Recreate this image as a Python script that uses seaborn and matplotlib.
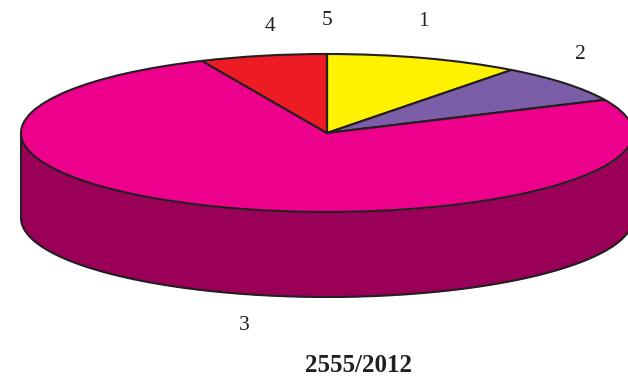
import numpy as np
import matplotlib
matplotlib.use("Agg")
import matplotlib.pyplot as plt
import seaborn as sns

categories = ["1", "2", "3", "4", "5"]
values = [10.3, 7.8, 75.2, 6.7, 0.0]
top_colors = ["#fff200", "#7b5ea7", "#ec008c", "#ed1c24", "#ed1c24"]
wall_color = "#9a0058"
edge = "#231f20"
title = "2555/2012"

W, H = 628, 378
CX, CY, RX, RY, DEPTH = 327, 133, 306, 79, 85

sns.set_theme(style="white")
plt.rcParams["font.family"] = ["Liberation Serif", "DejaVu Serif"]

fig = plt.figure(figsize=(W / 100, H / 100), dpi=100)
ax = fig.add_axes([0, 0, 1, 1])

d = DEPTH / RY
theta = np.linspace(np.pi, 2 * np.pi, 400)
xs = np.cos(theta)
ys = np.sin(theta)
ax.fill_between(xs, ys, ys - d, color=wall_color, lw=0, zorder=1)
ax.plot(xs, ys - d, color=edge, lw=1.5, zorder=2)
ax.plot([-1, -1], [0, -d], color=edge, lw=1.5, zorder=2)
ax.plot([1, 1], [0, -d], color=edge, lw=1.5, zorder=2)

wedges, _ = ax.pie(
    values, colors=top_colors, startangle=90, counterclock=False, radius=1,
    center=(0, 0), frame=True,
    wedgeprops=dict(edgecolor=edge, linewidth=1.5, zorder=3),
)
ax.set_aspect("auto")
ax.set_xlim(-CX / RX, (W - CX) / RX)
ax.set_ylim(-(H - CY) / RY, CY / RY)
ax.axis("off")

def data_xy(px, py):
    return (px - CX) / RX, (CY - py) / RY

label_px = [(423, 21), (580, 54), (244, 325), (270, 26), (327, 20)]
for name, (px, py) in zip(categories, label_px):
    x, y = data_xy(px, py)
    ax.text(x, y, name, ha="center", va="center", fontsize=15.5, color="#231f20", zorder=5)

x, y = data_xy(358, 365)
ax.text(x, y, title, ha="center", va="center", fontsize=18, fontweight="bold",
        color="#231f20", zorder=5)

fig.savefig("out.png", dpi=100)
